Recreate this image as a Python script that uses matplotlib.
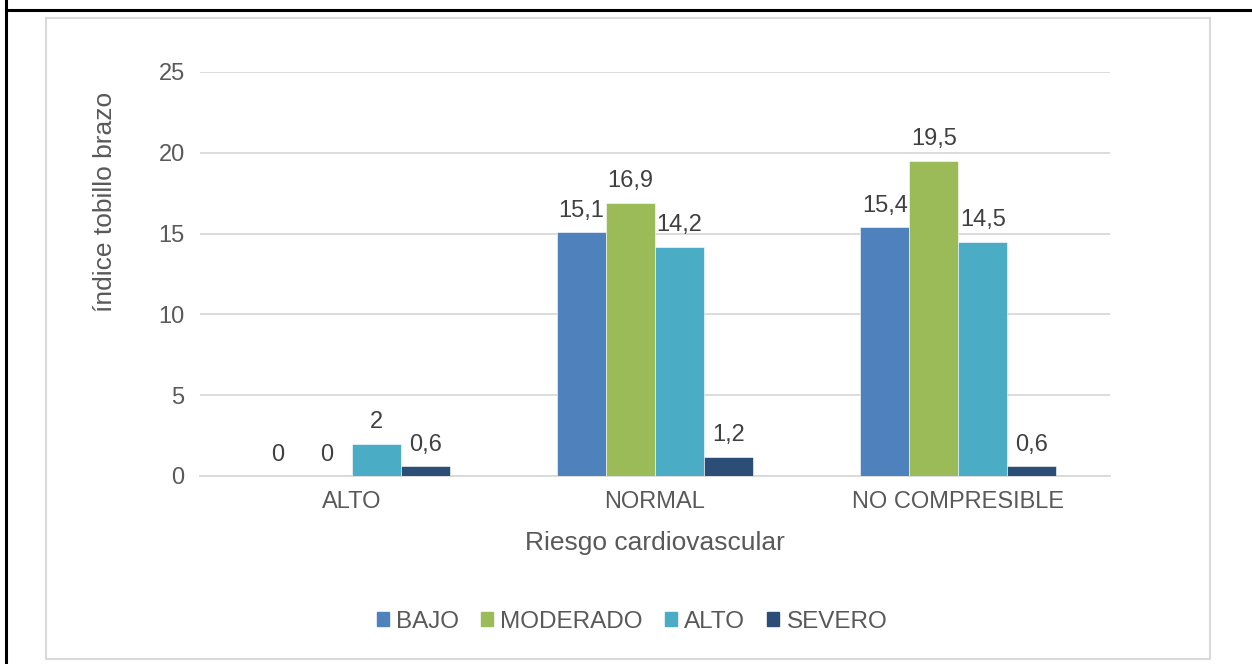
import numpy as np
import matplotlib.pyplot as plt
from matplotlib.patches import Rectangle
from matplotlib.lines import Line2D

plt.rcParams['font.family'] = ['Liberation Sans', 'DejaVu Sans']

categories = ['ALTO', 'NORMAL', 'NO COMPRESIBLE']
series_names = ['BAJO', 'MODERADO', 'ALTO', 'SEVERO']
bajo = [0, 15.1, 15.4]
moderado = [0, 16.9, 19.5]
alto = [2, 14.2, 14.5]
severo = [0.6, 1.2, 0.6]
labels_bajo = ['0', '15,1', '15,4']
labels_moderado = ['0', '16,9', '19,5']
labels_alto = ['2', '14,2', '14,5']
labels_severo = ['0,6', '1,2', '0,6']
colors = ['#4F81BD', '#9BBB59', '#4BACC6', '#2C4D75']

fig = plt.figure(figsize=(12.52, 6.64), dpi=100)

# outer table border lines + chart frame
fig.add_artist(Line2D([6 / 1252, 1], [1 - 10 / 664, 1 - 10 / 664], color='black', lw=2.2))
fig.add_artist(Line2D([6 / 1252, 6 / 1252], [0, 1], color='black', lw=2.2))
fig.add_artist(Rectangle((46 / 1252, 1 - 659 / 664), (1210 - 46) / 1252, (659 - 18) / 664,
                         fill=False, edgecolor='#D9D9D9', lw=1.5))

ax = fig.add_axes([200 / 1252, 1 - 476 / 664, (1110 - 200) / 1252, (476 - 72) / 664])

x = np.arange(len(categories))
w = 49 / 303.3
all_vals = [bajo, moderado, alto, severo]
all_labels = [labels_bajo, labels_moderado, labels_alto, labels_severo]
for i, (vals, labs) in enumerate(zip(all_vals, all_labels)):
    pos = x + (i - 1.5) * w
    ax.bar(pos, vals, width=w, color=colors[i], edgecolor='white', linewidth=0.4, zorder=3)
    for p, v, t in zip(pos, vals, labs):
        ax.annotate(t, (p, v), xytext=(0, 7.5), textcoords='offset points',
                    ha='center', va='bottom', fontsize=17, color='#404040')

ax.set_xlim(-0.5, 2.5)
ax.set_ylim(0, 25)
ax.set_yticks([0, 5, 10, 15, 20, 25])
ax.yaxis.grid(True, color='#D9D9D9', lw=1.3, zorder=0)
ax.set_axisbelow(True)
for s in ['top', 'right', 'left']:
    ax.spines[s].set_visible(False)
ax.spines['bottom'].set_color('#D9D9D9')
ax.spines['bottom'].set_linewidth(1.3)
ax.tick_params(axis='both', length=0, labelsize=17, labelcolor='#595959')
ax.tick_params(axis='y', pad=11)
ax.tick_params(axis='x', pad=11)
ax.set_xticks(x)
ax.set_xticklabels(categories)

fig.text(655 / 1252, 1 - 543 / 664, 'Riesgo cardiovascular', ha='center', va='center',
         fontsize=19, color='#595959')
fig.text(105 / 1252, 1 - 202 / 664, 'índice tobillo brazo', ha='center', va='center',
         rotation=90, fontsize=19, color='#595959')

handles = [Rectangle((0, 0), 1, 1, color=c) for c in colors]
fig.legend(handles, series_names, loc='center', bbox_to_anchor=(632 / 1252, 1 - 622 / 664),
           ncol=4, frameon=False, fontsize=17.5, labelcolor='#595959',
           handlelength=0.5, handleheight=0.5, handletextpad=0.3, columnspacing=0.9)

fig.savefig('out.png', dpi=100)
